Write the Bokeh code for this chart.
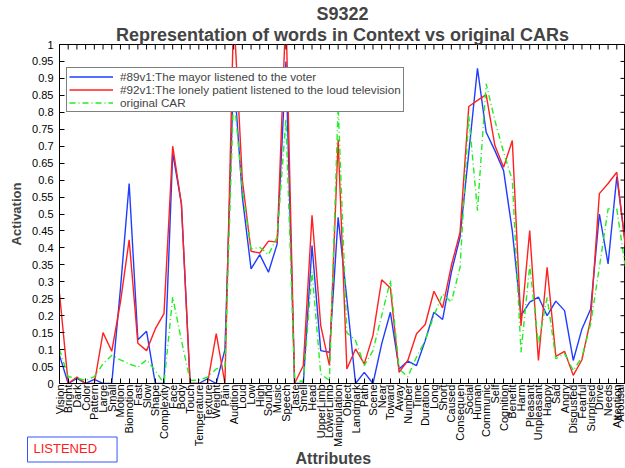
import math
from bokeh.plotting import figure
from bokeh.models import Range1d, FixedTicker, Title
from bokeh.embed import file_html
from bokeh.resources import INLINE

attributes = ["Vision", "Bright", "Dark", "Color", "Pattern", "Large", "Small", "Motion",
              "Biomotion", "Fast", "Slow", "Shape", "Complexity", "Face", "Body", "Touch",
              "Temperature", "Texture", "Weight", "Pain", "Audition", "Loud", "Low", "High",
              "Sound", "Music", "Speech", "Taste", "Smell", "Head", "UpperLimb", "LowerLimb",
              "Manipulation", "Object", "Landmark", "Path", "Scene", "Near", "Toward", "Away",
              "Number", "Time", "Duration", "Long", "Short", "Caused", "Consequen", "Social",
              "Human", "Communic", "Self", "Cognition", "Benefit", "Harm", "Pleasant",
              "Unpleasant", "Happy", "Sad", "Angry", "Disgusted", "Fearful", "Surprised",
              "Drive", "Needs", "Attention", "Arousal"]

mayor_voter = [0.083, 0.0, 0.015, 0.0, 0.012, 0.0, 0.0, 0.28, 0.59, 0.129, 0.154, 0.0, 0.0,
               0.68, 0.53, 0.0, 0.0, 0.014, 0.0, 0.10, 0.92, 0.55, 0.338, 0.38, 0.328, 0.412,
               0.95, 0.0, 0.0, 0.407, 0.097, 0.092, 0.49, 0.25, 0.0, 0.033, 0.0, 0.117, 0.21,
               0.043, 0.066, 0.053, 0.127, 0.21, 0.189, 0.328, 0.432, 0.68, 0.93, 0.741, 0.687,
               0.628, 0.45, 0.20, 0.24, 0.255, 0.20, 0.243, 0.215, 0.068, 0.161, 0.22, 0.50,
               0.353, 0.61, 0.41]

patient_tv = [0.266, 0.0, 0.019, 0.0, 0.0, 0.15, 0.095, 0.24, 0.424, 0.119, 0.097, 0.161, 0.206,
              0.70, 0.53, 0.0, 0.0, 0.0, 0.147, 0.0, 1.1, 0.60, 0.39, 0.385, 0.42, 0.417,
              1.1, 0.0, 0.053, 0.496, 0.171, 0.053, 0.72, 0.043, 0.102, 0.058, 0.142, 0.306,
              0.282, 0.033, 0.068, 0.147, 0.174, 0.272, 0.223, 0.348, 0.446, 0.817, 0.835,
              0.852, 0.702, 0.638, 0.717, 0.17, 0.451, 0.068, 0.343, 0.08, 0.095, 0.024, 0.07,
              0.19, 0.56, 0.59, 0.623, 0.40]

original_car = [0.10, 0.02, 0.016, 0.009, 0.02, 0.058, 0.083, 0.07, 0.058, 0.048, 0.07, 0.038,
                0.0, 0.255, 0.127, 0.009, 0.01, 0.019, 0.043, 0.048, 0.86, 0.57, 0.397, 0.402,
                0.38, 0.432, 0.78, 0.009, 0.006, 0.33, 0.028, 0.009, 0.82, 0.15, 0.127, 0.053,
                0.097, 0.2, 0.304, 0.043, 0.02, 0.078, 0.127, 0.2, 0.264, 0.24, 0.343, 0.79,
                0.51, 0.884, 0.776, 0.682, 0.60, 0.092, 0.348, 0.117, 0.255, 0.073, 0.088,
                0.038, 0.078, 0.176, 0.343, 0.515, 0.515, 0.34]

y_ticks = [round(i * 0.05, 2) for i in range(21)]
y_tick_labels = {v: f"{v:g}" for v in y_ticks}

xs = list(range(1, len(attributes) + 1))
FONT = "Liberation Sans"

p = figure(width=625, height=468, output_backend="svg", toolbar_location=None,
           x_range=Range1d(xs[0], xs[-1]), y_range=Range1d(y_ticks[0], y_ticks[-1]),
           min_border_left=59, min_border_right=0, min_border_top=44, min_border_bottom=85,
           title=None)
p.xgrid.visible = False
p.ygrid.visible = False
p.outline_line_color = "black"
p.background_fill_color = "white"
p.border_fill_color = "white"

p.line(xs, mayor_voter, color="#1f3cff", line_width=1.4,
       legend_label="#89v1:The mayor listened to the voter")
p.line(xs, patient_tv, color="#ff2020", line_width=1.4,
       legend_label="#92v1:The lonely patient listened to the loud television")
p.line(xs, original_car, color="#22ee22", line_width=1.4, line_dash="6 3 1 3",
       legend_label="original CAR")

# inward tick marks on the top and right edges of the box
p.scatter(xs, [y_ticks[-1]] * len(xs), marker="dash", angle=math.pi / 2, size=10,
          line_color="black", line_width=1)
p.scatter([xs[-1]] * len(y_ticks), y_ticks, marker="dash", size=10,
          line_color="black", line_width=1)

xt = FixedTicker(ticks=xs, minor_ticks=[])
yt = FixedTicker(ticks=y_ticks, minor_ticks=[])

xa = p.xaxis[0]
xa.ticker = xt
xa.major_label_overrides = {i: name for i, name in zip(xs, attributes)}
xa.major_label_orientation = math.pi / 2
xa.major_label_text_font = FONT
xa.major_label_text_font_size = "11px"
xa.major_label_text_color = "black"
xa.major_label_standoff = 1
xa.major_tick_in = 5
xa.major_tick_out = 0
xa.axis_line_color = "black"
xa.major_tick_line_color = "black"

ya = p.yaxis[0]
ya.ticker = yt
ya.major_label_overrides = y_tick_labels
ya.major_label_text_font = FONT
ya.major_label_text_font_size = "11px"
ya.major_label_text_color = "black"
ya.major_label_standoff = 6
ya.major_tick_in = 5
ya.major_tick_out = 0
ya.axis_line_color = "black"
ya.major_tick_line_color = "black"
ya.axis_label = "Activation"
ya.axis_label_text_font = FONT
ya.axis_label_text_font_size = "13px"
ya.axis_label_text_font_style = "bold"
ya.axis_label_standoff = 5

t2 = Title(text="Representation of words in Context vs original CARs", align="center",
           text_font=FONT, text_font_size="18px", text_font_style="bold", standoff=-1)
t1 = Title(text="S9322", align="center", text_font=FONT, text_font_size="18px",
           text_font_style="bold", standoff=-1)
p.add_layout(t2, "above")
p.add_layout(t1, "above")

# zero-height panel right under the tick labels, holding the boxed note
listened = Title(text="LISTENED", align="left", vertical_align="middle", offset=-32,
                 standoff=-28, text_font=FONT, text_font_size="13px",
                 text_font_style="normal", text_color="#ff2020",
                 border_line_color="#3355ff", border_line_width=1,
                 background_fill_color="white", padding=(6, 20, 4, 6))
p.add_layout(listened, "below")

xlabel = Title(text="Attributes", align="left", vertical_align="middle", offset=236,
               standoff=-1.5, text_font=FONT, text_font_size="16px", text_font_style="bold")
p.add_layout(xlabel, "below")

lg = p.legend[0]
lg.location = (7, 271)
lg.margin = 0
lg.padding = 2
lg.spacing = 0
lg.label_height = 11
lg.glyph_height = 11
lg.glyph_width = 44
lg.label_standoff = 7
lg.label_text_font = FONT
lg.label_text_font_size = "11.7px"
lg.border_line_color = "black"
lg.border_line_width = 1
lg.background_fill_alpha = 1.0

open("out.html", "w").write(file_html(p, INLINE))
